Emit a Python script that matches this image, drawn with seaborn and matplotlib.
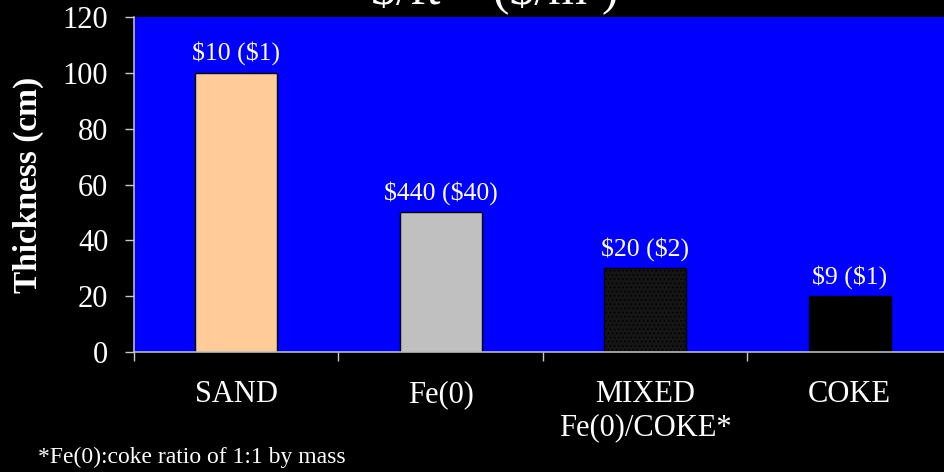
import matplotlib
matplotlib.use("Agg")
import matplotlib.pyplot as plt
import seaborn as sns
import pandas as pd

# Media compared in the chart
categories = ["SAND", "Fe(0)", "MIXED\nFe(0)/COKE*", "COKE"]
thickness_cm = [100, 50, 30, 20]
cost_labels = ["$10 ($1)", "$440 ($40)", "$20 ($2)", "$9 ($1)"]
bar_colors = ["#FFCC99", "#C0C0C0", "#151515", "#000000"]
y_ticks = [0, 20, 40, 60, 80, 100, 120]

title_text = "$/ft\u00b2   ($/m\u00b2)"
y_title = "Thickness (cm)"
footnote = "*Fe(0):coke ratio of 1:1 by mass"

sns.set_style("ticks")
plt.rcParams["font.family"] = ["Liberation Serif", "DejaVu Serif"]
plt.rcParams["hatch.color"] = "#3a3a3a"
plt.rcParams["hatch.linewidth"] = 0.6

W, H = 945, 472
fig = plt.figure(figsize=(W / 100, H / 100), dpi=100, facecolor="black")
ax = fig.add_axes([134 / W, 120 / H, 818 / W, 335 / H])
ax.set_facecolor("#0000FF")

df = pd.DataFrame({"medium": categories, "thickness": thickness_cm})
sns.barplot(data=df, x="medium", y="thickness", hue="medium",
            palette=bar_colors, legend=False, width=0.4,
            edgecolor="black", linewidth=1.0, saturation=1, ax=ax)

# stippled fill for the mixed medium
ax.patches[2].set_hatch("....")

for i, (v, lab) in enumerate(zip(thickness_cm, cost_labels)):
    ax.annotate(lab, xy=(i, v), xytext=(0, 5.5), textcoords="offset points",
                ha="center", va="bottom", color="white", fontsize=18.5,
                parse_math=False)

ax.set_xlim(-0.5, 3.5)
ax.set_ylim(0, 120)
ax.set_yticks(y_ticks)
ax.set_yticklabels([str(t) for t in y_ticks])

# boundary ticks between categories, labels centred beneath bars
ax.set_xticks([-0.5, 0.5, 1.5, 2.5, 3.5])
ax.set_xticklabels([])
ax.set_xticks(range(len(categories)), minor=True)
ax.set_xticklabels(categories, minor=True)
ax.tick_params(axis="x", which="major", length=6.5, width=1.0,
               color="#c8c8c8", direction="out")
ax.tick_params(axis="x", which="minor", length=0, pad=20,
               labelsize=22, labelcolor="white")
ax.tick_params(axis="y", length=6.5, width=1.0, color="#c8c8c8",
               direction="out", pad=12, labelsize=22, labelcolor="white")

for side in ("top", "right"):
    ax.spines[side].set_visible(False)
for side in ("left", "bottom"):
    ax.spines[side].set_color("#c8c8c8")
    ax.spines[side].set_linewidth(1.1)

ax.set_xlabel("")
ax.set_ylabel(y_title, fontsize=24, fontweight="bold", color="white")
ax.yaxis.label.set_va("center")
ax.yaxis.set_label_coords((28 - 134) / 818, 0.5)

fig.text(495 / W, 1 - 3 / H, title_text, ha="center", va="baseline",
         color="white", fontsize=36, parse_math=False)
fig.text(38 / W, 9 / H, footnote, ha="left", va="baseline",
         color="white", fontsize=17)

fig.savefig("out.png", dpi=100, facecolor="black")
